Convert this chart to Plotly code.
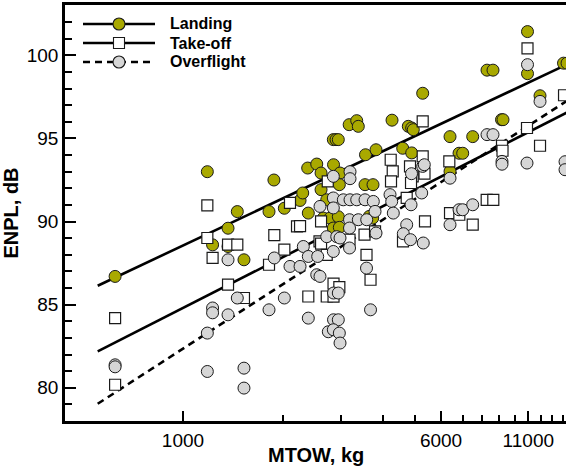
import numpy as np
import plotly.graph_objects as go

# ---- measured noise levels vs. maximum take-off weight ----
landing_mtow = [624, 1184, 1458, 1367, 1228, 1367, 1527, 1880, 1817, 2021,
                2254, 2296, 2377, 2387, 2531, 2608, 2844, 2975, 2608,
                2840, 2894, 2940, 3170, 3341, 3378, 3551, 3820, 4269,
                4780, 4894, 4949, 4598, 4894, 5282, 2961, 3539, 3741,
                2713, 2650, 2776, 2940, 3646, 3733, 2840, 2961,
                6386, 7476, 6798, 6974, 6386, 8256, 8607, 9130, 9226,
                10937, 10937, 11931, 14046, 14391]
landing_enpl = [86.7, 93.0, 90.6, 89.6, 88.6, 88.5, 87.7, 92.5, 90.6, 90.8,
                91.27, 91.72, 93.22, 90.51, 93.46, 92.92, 93.42, 92.92, 91.92,
                94.93, 94.93, 94.93, 95.83, 96.07, 95.73, 94.02, 94.32, 96.10,
                95.73, 95.63, 95.53, 94.41, 94.13, 97.72, 92.22, 92.22, 92.22,
                91.31, 90.21, 90.21, 90.29, 90.31, 90.21, 89.61, 89.65,
                95.11, 95.11, 94.11, 94.11, 93.02, 99.11, 99.11, 96.13, 96.13,
                101.43, 98.90, 97.57, 99.53, 99.53]

takeoff_mtow = [624, 624, 1184, 1184, 1228, 1367, 1458, 1367, 1527, 1885,
                2021, 1817, 2102, 2207, 2254, 2387, 2580, 2608, 2608, 2732,
                2713, 2713, 2844, 2961, 2844, 3178, 3527, 3576, 3677, 3794,
                4230, 4290, 4239, 4837, 4928, 4871, 4727, 4607, 5282, 5282,
                5349, 5367, 6355, 6386, 6812, 7476, 8238, 8625, 9162, 9194,
                10899, 10937, 11931, 14095]
takeoff_enpl = [84.19, 80.18, 90.97, 89.01, 87.81, 88.61, 88.61, 86.20, 85.40, 89.18,
                88.31, 87.40, 91.13, 89.71, 89.73, 85.49, 88.81, 88.67, 90.01, 92.42,
                88.00, 85.49, 86.26, 86.05, 85.48, 88.91, 89.21, 88.00, 86.50, 89.41,
                93.72, 93.02, 92.42, 93.32, 92.72, 92.32, 91.42, 88.81, 96.03, 93.92,
                92.88, 90.01, 93.62, 90.51, 90.41, 89.81, 91.31, 91.31, 94.56, 94.26,
                95.63, 100.42, 94.56, 97.60]

overflight_mtow = [624, 624, 1184, 1184, 1228, 1228, 1367, 1367, 1458, 1527,
                   1527, 1885, 1817, 2021, 2102, 2254, 2306, 2387, 2548, 2387,
                   2531, 2589, 2589, 2713, 2908, 2975, 2840, 3044, 3189, 3341,
                   3539, 3749, 2840, 2840, 3189, 3189, 3178, 3378, 3581, 3178,
                   3794, 3820, 2840, 3178, 3576, 3677, 2844, 2940, 2844, 2940,
                   2743, 2840, 2961, 2975, 4210, 4260, 4307, 4727, 4617, 4854,
                   5304, 4871, 5246, 4888, 5282, 5341, 6386, 6798, 6974, 7476,
                   6386, 8256, 8607, 9162, 9162, 10899, 10937, 11931, 14193, 14193]
overflight_enpl = [81.38, 81.26, 83.29, 80.98, 84.80, 84.51, 87.70, 84.39, 85.40, 81.18,
                   79.98, 87.81, 84.69, 85.40, 87.30, 87.30, 88.50, 87.90, 87.90, 84.19,
                   86.80, 86.70, 90.91, 89.09, 89.09, 89.01, 91.42, 91.31, 91.31, 91.31,
                   91.31, 91.21, 90.82, 92.72, 93.00, 92.58, 90.11, 90.11, 90.11, 89.61,
                   90.61, 89.31, 88.20, 88.41, 87.20, 84.69, 85.70, 85.70, 84.09, 84.09,
                   83.37, 83.49, 83.29, 82.69, 91.62, 91.21, 90.51, 89.81, 89.27, 88.91,
                   88.71, 91.01, 91.72, 92.88, 93.32, 93.42, 92.61, 90.71, 90.71, 91.01,
                   89.81, 95.23, 95.23, 93.62, 93.45, 93.52, 99.44, 97.23, 93.60, 93.12]

# log-linear regressions: ENPL = a + b * log10(MTOW)
series_names = ["Landing", "Take-off", "Overflight"]
fit_intercept = [60.33, 54.32, 43.71]
fit_slope = [9.41, 10.16, 12.88]
fit_mtow_span = [553, 16000]

x_ticks = [1000, 6000, 11000]
x_minor = [2000, 3000, 4000, 5000, 7000, 8000, 9000, 10000,
           12000, 13000, 14000, 15000]

OLIVE = "#a9a900"
GREY = "#d6d6d6"
EDGE = "#1a1a1a"
FONT = "Liberation Sans, Arial, Helvetica, sans-serif"

fig = go.Figure()

# regression lines (under the markers)
dashes = ["solid", "solid", "7px,5px"]
for a, b, d in zip(fit_intercept, fit_slope, dashes):
    xs = np.array(fit_mtow_span, dtype=float)
    fig.add_trace(go.Scatter(
        x=xs, y=a + b * np.log10(xs), mode="lines",
        line=dict(color="black", width=2.6, dash=d),
        showlegend=False, hoverinfo="skip"))

fig.add_trace(go.Scatter(
    x=landing_mtow, y=landing_enpl, mode="markers", name="Landing",
    marker=dict(symbol="circle", size=12, color=OLIVE,
                line=dict(color=EDGE, width=1)),
    showlegend=False))
fig.add_trace(go.Scatter(
    x=takeoff_mtow, y=takeoff_enpl, mode="markers", name="Take-off",
    marker=dict(symbol="square", size=11, color="white",
                line=dict(color=EDGE, width=1.2)),
    showlegend=False))
fig.add_trace(go.Scatter(
    x=overflight_mtow, y=overflight_enpl, mode="markers", name="Overflight",
    marker=dict(symbol="circle", size=12, color=GREY,
                line=dict(color=EDGE, width=1)),
    showlegend=False))

# ---- hand-drawn key in the upper-left corner ----
W, H = 566, 468
ML, MR, MT, MB = 65, 0, 5, 47
PW, PH = W - ML - MR, H - MT - MB


def px(x):
    return (x - ML) / PW


def py(y):
    return (H - MB - y) / PH


shapes = []
annotations = []
rows = [24, 43, 62]
kinds = [("circle", OLIVE, "solid"), ("square", "white", "solid"),
         ("circle", GREY, "dash")]
for name, yr, (sym, col, dash) in zip(series_names, rows, kinds):
    shapes.append(dict(type="line", xref="paper", yref="paper",
                       x0=px(83), x1=px(155), y0=py(yr), y1=py(yr),
                       line=dict(color="black", width=2.6,
                                 dash="7px,5px" if dash == "dash" else "solid")))
    r = 6 if sym == "circle" else 5.5
    shapes.append(dict(type="circle" if sym == "circle" else "rect",
                       xref="paper", yref="paper",
                       xsizemode="pixel", ysizemode="pixel",
                       xanchor=px(119), yanchor=py(yr),
                       x0=-r, x1=r, y0=-r, y1=r,
                       fillcolor=col, line=dict(color=EDGE, width=1.1)))
    annotations.append(dict(xref="paper", yref="paper", x=px(168), y=py(yr),
                            xanchor="left", yanchor="middle", showarrow=False,
                            text="<b>%s</b>" % name,
                            font=dict(family=FONT, size=16, color="black")))

# x-axis title placed as an annotation so it sits close to the tick labels
annotations.append(dict(xref="paper", yref="paper", x=0.5, y=py(455),
                        xanchor="center", yanchor="middle", showarrow=False,
                        text="<b>MTOW, kg</b>",
                        font=dict(family=FONT, size=20, color="black")))

fig.update_layout(
    width=W, height=H,
    margin=dict(l=ML, r=MR, t=MT, b=MB),
    paper_bgcolor="white", plot_bgcolor="white",
    font=dict(family=FONT, size=19, color="black"),
    shapes=shapes, annotations=annotations,
    showlegend=False,
    xaxis=dict(
        type="log", range=[2.6441, 4.155],
        tickvals=x_ticks, ticktext=[str(v) for v in x_ticks],
        ticks="inside", ticklen=10, tickwidth=2, tickcolor="black",
        minor=dict(tickvals=x_minor, ticks="inside", ticklen=6,
                   tickwidth=1.5, tickcolor="black"),
        showline=True, linewidth=2.5, linecolor="black", mirror=True,
        showgrid=False, zeroline=False,
        tickfont=dict(size=19),
    ),
    yaxis=dict(
        range=[78.0, 103.03], tick0=0, dtick=5,
        ticks="inside", ticklen=11, tickwidth=2, tickcolor="black",
        minor=dict(dtick=1, ticks="inside", ticklen=7,
                   tickwidth=1.5, tickcolor="black"),
        showline=True, linewidth=2.5, linecolor="black", mirror=False,
        showgrid=False, zeroline=False,
        tickfont=dict(size=19),
        title=dict(text="ENPL, dB", standoff=6,
                   font=dict(size=20, weight="bold")),
    ),
)

fig.write_html("out.html", config={"displayModeBar": False})
